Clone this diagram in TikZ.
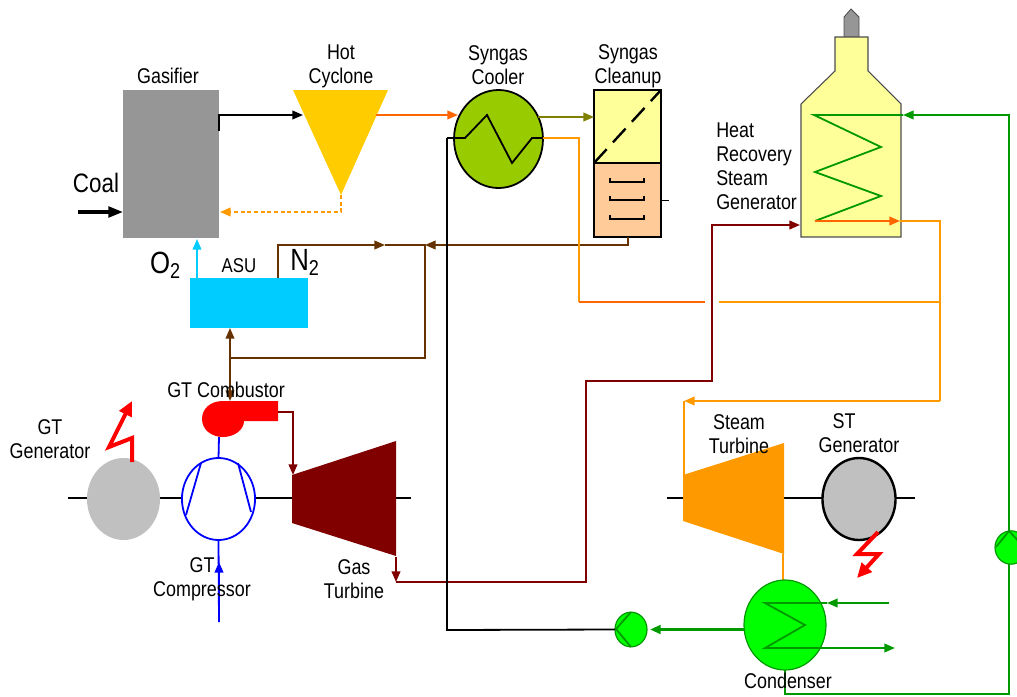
\documentclass[tikz,border=0pt]{standalone}
\usepackage{fontspec}
\setmainfont[FakeStretch=0.84]{Liberation Sans}
\usetikzlibrary{arrows.meta,shapes.geometric}
\definecolor{gasgray}{HTML}{969696}
\definecolor{gengray}{HTML}{C0C0C0}
\definecolor{cyclone}{HTML}{FFCC00}
\definecolor{coolgreen}{HTML}{99CC00}
\definecolor{paleyellow}{HTML}{FFFF99}
\definecolor{paleorange}{HTML}{FFCC99}
\definecolor{asublue}{HTML}{00CCFF}
\definecolor{steam}{HTML}{FF9900}
\definecolor{hotline}{HTML}{FF6600}
\definecolor{fluegas}{HTML}{800000}
\definecolor{nitrogen}{HTML}{663300}
\definecolor{olive}{HTML}{808000}
\definecolor{water}{HTML}{009900}
\definecolor{brightgreen}{HTML}{00FF00}
\tikzset{
  >={Triangle[length=8pt,width=6.5pt]},
  lbl/.style={draw=none,align=center,inner sep=0pt,font=\fontsize{16}{18}\selectfont},
  biglbl/.style={draw=none,inner sep=0pt,font=\fontsize{20}{22}\selectfont},
  box/.style={rectangle,inner sep=0pt,outer sep=0pt},
  oval/.style={ellipse,inner sep=0pt,outer sep=0pt},
  pipe/.style={line width=1.35pt},
  shaft/.style={line width=1.35pt,black}
}
\begin{document}
\begin{tikzpicture}[x=0.75pt,y=-0.75pt]
    \useasboundingbox (0,0) rectangle (1017,696);

    % gasifier and cyclone
    \node [box,fill=gasgray,minimum width=72pt,minimum height=111pt,name=gasifier] at (171,164) {};
    \fill [cyclone] (293,90) -- (388,90) -- (341,195) -- cycle;
    \coordinate (cyctip) at (341,195);
    \coordinate (cycin) at (303,115);
    \coordinate (cycout) at (376,115);
    \coordinate (gasout) at (219,131);
    \coordinate (gasback) at (220,212);
    \coordinate (coalin) at (78,212);
    \draw [pipe,->] (gasout) |- (cycin);
    \draw [pipe,steam,densely dashed,->] (cyctip) |- (gasback);
    \draw [line width=2.4pt,-{Triangle[length=11pt,width=8pt]}] (coalin) -- (coalin -| gasifier.west);
    \node [lbl,name=t1] at (168,76) {Gasifier};
    \node [lbl,name=t2] at (341,66) {Hot\\Cyclone};
    \node [biglbl,name=t3] at (96,183) {Coal};

    % syngas cooler
    \node [oval,draw=black,line width=1.35pt,fill=coolgreen,minimum width=66.7pt,minimum height=73.5pt,name=cooler] at (498.5,139) {};
    \coordinate (coilin) at (447,138);
    \coordinate (coilout) at (543,138);
    \draw [pipe] (coilin) -- (465,138) -- (487,115) -- (512,163) -- (532,138) -- (coilout);
    \draw [pipe,hotline,->] (cycout) -- (458,115);
    \node [lbl,name=t4] at (498,65) {Syngas\\Cooler};

    % syngas cleanup
    \node [box,draw=black,line width=1.5pt,fill=paleorange,minimum width=50.2pt,minimum height=55.5pt,name=wash] at (627.5,200) {};
    \node [box,draw=black,line width=2pt,fill=paleyellow,minimum width=50.2pt,minimum height=54.7pt,name=filter] at (627.5,126.5) {};
    \draw [line width=1.8pt,dash pattern=on 14pt off 7pt] (filter.south west) -- (filter.north east);
    \foreach \y in {182,200,219}
      \draw [line width=1pt] (610,\y-4) -- (610,\y) -- (644,\y) -- (644,\y-4);
    \draw [line width=0.6pt] (wash.east) -- +(8,0);
    \draw [pipe,olive,->] (538,117) -- (filter.west |- 0,117);
    \node [lbl,name=t5] at (628,66) {Syngas\\Cleanup};

    % HRSG
    \draw [line width=0.6pt,black!70,fill=gasgray] (844,38) -- (844,17) -- (851,9) -- (859,17) -- (859,38) -- cycle;
    \draw [line width=0.8pt,black!70,fill=paleyellow] (801,237) -- (801,104) -- (835,71) -- (835,37) -- (868,37) -- (868,71) -- (901,104) -- (901,237) -- cycle;
    \coordinate (hrsgin) at (800,225);
    \coordinate (hrsgwater) at (903,115);
    \coordinate (hrsgcoil) at (815,221);
    \coordinate (hrsgsteam) at (900,221);
    \draw [pipe,water] (hrsgwater) -- (814,115) -- (881,147) -- (815,172) -- (881,196) -- (hrsgcoil);
    \draw [pipe,hotline,->] (hrsgcoil) -- (hrsgsteam);
    \node [lbl,align=left,anchor=west,name=t6] at (716,166) {Heat\\Recovery\\Steam\\Generator};

    % ASU
    \node [box,fill=asublue,minimum width=88.5pt,minimum height=37.5pt,name=asu] at (249,303) {};
    \coordinate (o2out) at (197,278);
    \coordinate (n2out) at (278,278);
    \coordinate (n2join) at (425,245);
    \coordinate (n2low) at (425,358);
    \coordinate (n2split) at (230,358);
    \coordinate (asuin) at (230,328);
    \coordinate (combin) at (230,401);
    \coordinate (cleanout) at (628,237);
    \draw [pipe,asublue,->] (o2out) -- (197,239);
    \draw [pipe,nitrogen,->] (n2out) |- (385,245);
    \draw [pipe,nitrogen] (385,245) -- (n2join) -- (n2low) -- (n2split);
    \draw [pipe,nitrogen,->] (cleanout) |- (n2join);
    \draw [pipe,nitrogen,->] (n2split) -- (asuin);
    \draw [pipe,nitrogen,->] (n2split) -- (combin);
    \node [lbl,font=\fontsize{15}{15}\selectfont,name=t7] at (239,266) {ASU};
    \node [biglbl,font=\fontsize{23}{24}\selectfont,name=t8] at (165.5,265) {O\textsubscript{2}};
    \node [biglbl,font=\fontsize{23}{24}\selectfont,name=t9] at (305,262) {N\textsubscript{2}};

    % gas turbine train
    \draw [shaft] (68,498) -- (411,498);
    \node [oval,fill=gengray,minimum width=54.8pt,minimum height=61.5pt,name=gtgen] at (123.5,499) {};
    \node [oval,draw=blue,line width=1.35pt,fill=white,minimum width=54.8pt,minimum height=61.5pt,name=comp] at (218.5,499) {};
    \draw [pipe,blue] (201,463) -- (186,515);
    \draw [pipe,blue] (238,463) -- (251,512);
    \fill [fluegas] (292,475) -- (396,441) -- (396,556) -- (292,523) -- cycle;
    \fill [red] (278,401) -- (223,401) .. controls (210,401) and (202,409) .. (202,419) .. controls (202,430) and (212,437) .. (223,437) .. controls (234,437) and (244,430) .. (244,421) -- (278,421) -- cycle;
    \coordinate (combbase) at (219,437);
    \coordinate (combout) at (278,412);
    \coordinate (gtin) at (293,475);
    \coordinate (gtout) at (396,557);
    \coordinate (gtdrop) at (396,582);
    \coordinate (airin) at (219,622);
    \draw [pipe,blue] (combbase) -- (comp.north);
    \draw [pipe,blue] (airin) -- (comp.south);
    \draw [pipe,blue,->] (airin) -- (219,562);
    \draw [pipe,fluegas,->] (combout) -| (gtin);
    \draw [pipe,fluegas,->] (gtout) -- (gtdrop);
    \draw [pipe,fluegas,->] (gtdrop) -- (586,582) -- (586,381) -- (712,381) -- (712,225) -- (hrsgin);
    \draw [line width=3pt,red,-{Triangle[length=11pt,width=10pt]}] (132,462) -- (132,438) -- (109,447) -- (132,401);
    \node [lbl,name=t10] at (226,390) {GT Combustor};
    \node [lbl,name=t11] at (50,439) {GT\\Generator};
    \node [lbl,name=t12] at (202,579) {GT\\Compressor};
    \node [lbl,name=t13] at (354,579) {Gas\\Turbine};

    % steam turbine train
    \draw [line width=0.9pt] (667,498) -- (685,498);
    \draw [line width=1.8pt] (784,498) -- (915,498);
    \fill [steam] (683,475) -- (784,443) -- (784,554) -- (683,521) -- cycle;
    \node [oval,draw=black,line width=1.8pt,fill=gengray,minimum width=54.8pt,minimum height=61.5pt,name=stgen] at (859,499) {};
    \coordinate (stin) at (684,475);
    \coordinate (stfeed) at (684,401);
    \coordinate (steamright) at (940,221);
    \coordinate (steamcorner) at (940,401);
    \coordinate (stout) at (783,554);
    \draw [pipe,steam] (hrsgsteam) -- (steamright) -- (steamcorner);
    \draw [pipe,steam,->] (steamcorner) -- (stfeed);
    \draw [pipe,steam] (stfeed) -- (stin);
    \draw [line width=3pt,red,-{Triangle[length=11pt,width=10pt]}] (878,532) -- (857,554) -- (879,554) -- (857,578);
    \draw [pipe,steam] (coilout) -- (579,138) -- (579,302);
    \draw [pipe,hotline] (579,302) -- (705,302);
    \draw [pipe,steam] (719,302) -- (steamright |- 0,302);
    \node [lbl,name=t14] at (739,434) {Steam\\Turbine};
    \node [lbl,name=t15] at (844,421) {ST};
    \node [lbl,name=t15b] at (859,445) {Generator};

    % condenser and pumps
    \draw [pipe,steam] (stout) -- (783,580);
    \node [oval,draw=water,line width=0.9pt,fill=brightgreen,minimum width=61.5pt,minimum height=67.5pt,name=cond] at (785,625) {};
    \coordinate (cwin) at (889,603);
    \coordinate (cwout) at (895,648);
    \draw [pipe,water] (827,603) -- (765,603) -- (805,625) -- (765,648) -- (827,648);
    \draw [pipe,water,->] (cwin) -- (827,603);
    \draw [pipe,water,->] (827,648) -- (cwout);
    \node [oval,draw=water,line width=0.9pt,fill=brightgreen,minimum width=24pt,minimum height=26pt,name=pumpa] at (631,629.5) {};
    \draw [pipe,water] (631,612) -- (616,629) -- (631,647);
    \node [oval,draw=water,line width=0.9pt,fill=brightgreen,minimum width=24pt,minimum height=25pt,name=pumpb] at (1011,547.5) {};
    \draw [pipe,water] (996,547) -- (1009,531) -- (1024,547);
    \coordinate (condlow) at (785,694);
    \coordinate (feedcorner) at (1009,694);
    \coordinate (feedtop) at (1009,115);
    \coordinate (pumpaleft) at (447,630);
    \draw [line width=2pt,water,->] (cond.west |- pumpa) -- (650,629.5);
    \draw [pipe] (coilin) -- (pumpaleft) -- (pumpa.west);
    \draw [pipe,water] (cond.south) -- (condlow) -- (feedcorner) -- (1009,564);
    \draw [pipe,water,->] (1009,531) -- (feedtop) -- (hrsgwater);
    \node [lbl,name=t16] at (788,681) {Condenser};
\end{tikzpicture}
\end{document}
